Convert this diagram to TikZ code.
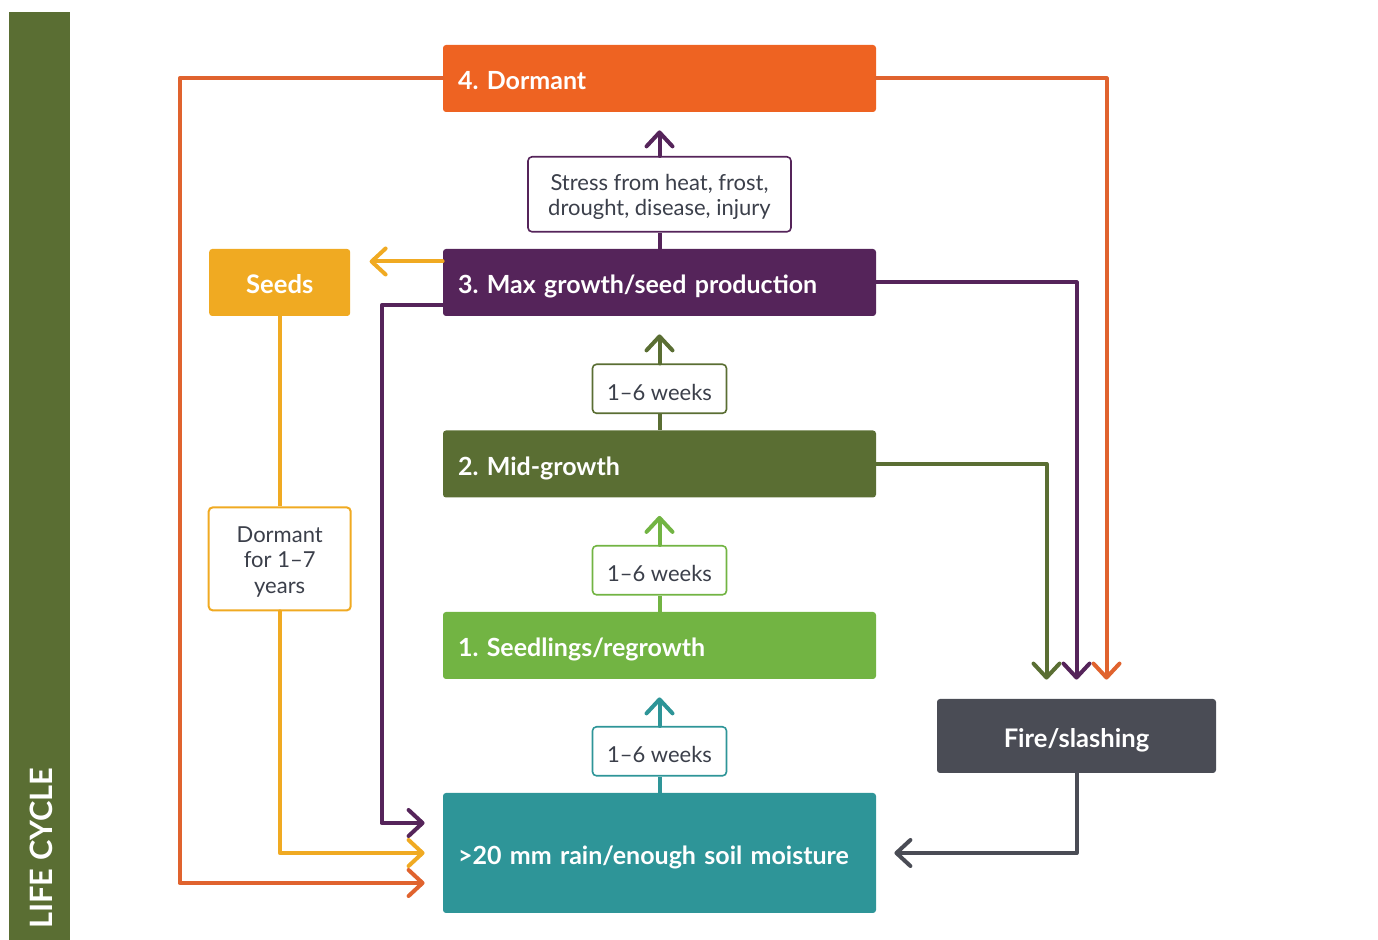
\documentclass[tikz,border=0pt]{standalone}
\usepackage{fontspec}
\setmainfont{Lato}
\usetikzlibrary{positioning,calc,arrows.meta}

\definecolor{dormcol}{HTML}{EE6322}
\definecolor{dormline}{HTML}{E0632E}
\definecolor{maxcol}{HTML}{55245A}
\definecolor{midcol}{HTML}{5A6E33}
\definecolor{seedlcol}{HTML}{72B443}
\definecolor{raincol}{HTML}{2E9598}
\definecolor{seedcol}{HTML}{F0AA22}
\definecolor{firecol}{HTML}{4A4C55}
\definecolor{txtcol}{HTML}{3B3F4A}

\frenchspacing
\begin{document}
\begin{tikzpicture}[x=0.5pt, y=-0.5pt, node distance=8pt,
    stage/.style = {fill=#1, text=white, font=\bfseries\fontsize{12.5}{15}\selectfont, rounded corners=1.5pt, minimum width=216.5pt, minimum height=33.5pt, text width=201.5pt, inner xsep=7.5pt, align=left, text height=13.5pt, text depth=2pt},
    box/.style = {fill=#1, text=white, font=\bfseries\fontsize{12.8}{15}\selectfont, rounded corners=1.5pt, minimum height=33.5pt, align=center, text height=13.5pt, text depth=2pt},
    tag/.style = {draw=#1, fill=white, text=txtcol, line width=0.8pt, rounded corners=2pt, font=\fontsize{11}{12.5}\selectfont, align=center},
    weeks/.style = {tag=#1, minimum width=67pt, minimum height=24.5pt, text height=12pt, text depth=0.5pt},
    flow/.style = {draw=#1, line width=2pt, line join=round, line cap=round, -{Straight Barb[length=7pt, width=13pt, line cap=round, line join=round]}},
    link/.style = {draw=#1, line width=2pt, line join=round}]
    \useasboundingbox (0,0) rectangle (1378,940);
    % side bar
    \fill[midcol] (9,12) rectangle (70,940);
    \node[rotate=90, anchor=west, text=white, font=\bfseries\fontsize{15.4}{17}\selectfont, inner sep=0pt] (lifecycle) at (41.5,929) {LIFE CYCLE};
    % main column
    \node[stage=raincol, minimum height=60pt] (rain) at (659.5,853) {>20 mm rain/enough soil moisture};
    \node[stage=seedlcol] (seedlings) at (659.5,645.5) {1. Seedlings/regrowth};
    \node[stage=midcol] (midgrowth) at (659.5,464) {2. Mid-growth};
    \node[stage=maxcol] (maxgrowth) at (659.5,282.5) {3. Max growth/seed production};
    \node[stage=dormcol] (dormant) at (659.5,78.5) {4. Dormant};
    \node[weeks=raincol] (wk1) [above=of rain] {1–6 weeks};
    \node[weeks=seedlcol] (wk2) [above=of seedlings] {1–6 weeks};
    \node[weeks=midcol] (wk3) [above=of midgrowth] {1–6 weeks};
    \node[tag=maxcol, minimum width=131.5pt, minimum height=37.5pt, text height=24pt, text depth=2.5pt] (stress) [above=of maxgrowth] {Stress from heat, frost,\\drought, disease, injury};
    % side boxes
    \node[box=seedcol, minimum width=70.5pt] (seeds) [left=46pt of maxgrowth] {Seeds};
    \node[tag=seedcol, line width=1pt, minimum width=71pt, minimum height=51.5pt, font=\fontsize{11}{12.75}\selectfont, text height=37pt, text depth=2.5pt] (seeddorm) [below=95pt of seeds] {Dormant\\for 1–7\\years};
    \node[box=firecol, minimum width=139.5pt, minimum height=37pt] (fire) at (1076.5,736) {Fire/slashing};
    % upward steps
    \draw[link=raincol] (rain.north) -- (wk1.south);
    \draw[flow=raincol] (wk1.north) -- ($(seedlings.south)+(0,18)$);
    \draw[link=seedlcol] (seedlings.north) -- (wk2.south);
    \draw[flow=seedlcol] (wk2.north) -- ($(midgrowth.south)+(0,18)$);
    \draw[link=midcol] (midgrowth.north) -- (wk3.south);
    \draw[flow=midcol] (wk3.north) -- ($(maxgrowth.south)+(0,18)$);
    \draw[link=maxcol] (maxgrowth.north) -- (stress.south);
    \draw[flow=maxcol] (stress.north) -- ($(dormant.south)+(0,18)$);
    % to fire/slashing
    \draw[flow=dormline] (dormant.east) -| ($(fire.north)+(30,-19)$);
    \draw[flow=maxcol] (maxgrowth.east) -| ($(fire.north)+(0,-19)$);
    \draw[flow=midcol] (midgrowth.east) -| ($(fire.north)+(-30,-19)$);
    \draw[flow=firecol] (fire.south) |- ($(rain.east)+(18,0)$);
    % back to rain
    \draw[flow=dormline] (dormant.west) -- ++(-263,0) |- ($(rain.west)+(-18,30)$);
    \draw[flow=seedcol] ($(maxgrowth.west)+(0,-21)$) -- ($(seeds.east)+(19,-21)$);
    \draw[flow=maxcol] ($(maxgrowth.west)+(0,23)$) -- ++(-61,0) |- ($(rain.west)+(-18,-30)$);
    \draw[link=seedcol] (seeds.south) -- (seeddorm.north);
    \draw[flow=seedcol] (seeddorm.south) |- ($(rain.west)+(-18,0)$);
\end{tikzpicture}
\end{document}
